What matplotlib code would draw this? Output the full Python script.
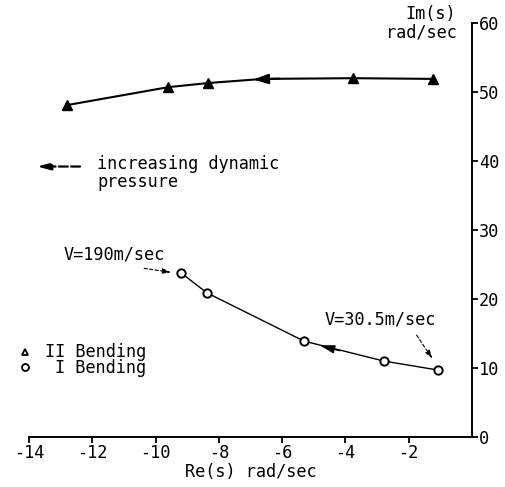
import matplotlib
matplotlib.use("Agg")
import matplotlib.pyplot as plt

# ---- data ----
re_II = [-12.8, -9.6, -8.34, -3.76, -1.23]
im_II = [48.1, 50.7, 51.3, 52.0, 51.9]
re_II_line = [-12.8, -9.6, -8.34, -6.6, -3.76, -1.23]
im_II_line = [48.1, 50.7, 51.3, 51.9, 52.0, 51.9]

re_I = [-9.2, -8.38, -5.31, -2.78, -1.07]
im_I = [23.8, 20.9, 13.9, 11.0, 9.7]

xticks = [-14, -12, -10, -8, -6, -4, -2]
xticklabels = ["-14", "-12", "-10", "-8", "-6", "-4", "-2"]
yticks = [0, 10, 20, 30, 40, 50, 60]
yticklabels = ["0", "10", "20", "30", "40", "50", "60"]

FONT = "DejaVu Sans Mono"
FS = 12.2

fig = plt.figure(figsize=(5.06, 4.87), dpi=100)
ax = fig.add_axes([29/506, 1-437/487, (472-29)/506, (437-23)/487])
ax.set_xlim(-14, 0)
ax.set_ylim(0, 60)

# curves
ax.plot(re_II_line, im_II_line, color="black", lw=1.5, zorder=2)
ax.plot(re_II, im_II, linestyle="none", marker="^", color="black", ms=7, zorder=3)
ax.plot(re_I, im_I, color="black", lw=1.0, zorder=2)
ax.plot(re_I, im_I, linestyle="none", marker="o", mfc="white", mec="black",
        mew=1.4, ms=6, zorder=3)

# direction arrows on curves
ax.annotate("", xy=(-7.0, 51.8), xytext=(-6.0, 51.95),
            arrowprops=dict(arrowstyle="-|>,head_length=0.9,head_width=0.3",
                            color="black", lw=1.5))
ax.annotate("", xy=(-4.9, 13.4), xytext=(-4.1, 12.4),
            arrowprops=dict(arrowstyle="-|>,head_length=0.9,head_width=0.25",
                            color="black", lw=1.0))

# legend for arrow
ax.annotate("", xy=(-13.85, 39.2), xytext=(-12.3, 39.2),
            arrowprops=dict(arrowstyle="-|>,head_length=0.8,head_width=0.2",
                            color="black", lw=1.6, linestyle=(0, (4, 1.5))),
            annotation_clip=False)
ax.text(-11.85, 40.9, "increasing dynamic\npressure", family=FONT, fontsize=FS,
        ha="left", va="top", linespacing=1.05)

# velocity labels
ax.text(-12.9, 26.4, "V=190m/sec", family=FONT, fontsize=FS, ha="left", va="center")
ax.annotate("", xy=(-9.42, 23.8), xytext=(-10.45, 24.5),
            arrowprops=dict(arrowstyle="-|>,head_length=0.5,head_width=0.15",
                            color="black", lw=0.8, linestyle=(0, (3, 2))))
ax.text(-4.65, 17.1, "V=30.5m/sec", family=FONT, fontsize=FS, ha="left", va="center")
ax.annotate("", xy=(-1.2, 11.0), xytext=(-1.8, 15.1),
            arrowprops=dict(arrowstyle="-|>,head_length=0.5,head_width=0.15",
                            color="black", lw=0.8, linestyle=(0, (3, 2))))

# symbol legend
ax.plot([-14.12], [12.3], marker="^", mfc="white", mec="black", mew=1.3, ms=5,
        clip_on=False, linestyle="none")
ax.plot([-14.12], [10.1], marker="o", mfc="white", mec="black", mew=1.3, ms=5,
        clip_on=False, linestyle="none")
ax.text(-10.3, 11.2, "II Bending\nI Bending", family=FONT, fontsize=FS,
        ha="right", va="center", multialignment="right", linespacing=0.88)

# axes styling
for s in ["top", "left"]:
    ax.spines[s].set_visible(False)
ax.spines["bottom"].set_linewidth(1.4)
ax.spines["right"].set_linewidth(1.4)
ax.yaxis.tick_right()
ax.set_xticks(xticks)
ax.set_xticklabels(xticklabels, family=FONT, fontsize=FS)
ax.set_yticks(yticks)
ax.set_yticklabels(yticklabels, family=FONT, fontsize=FS)
ax.tick_params(axis="x", direction="out", length=4, width=1.3, pad=1)
ax.tick_params(axis="y", direction="out", length=4, width=1.3, pad=1)

ax.text(0.5, -0.063, "Re(s) rad/sec", transform=ax.transAxes, family=FONT,
        fontsize=FS, ha="center", va="top")
ax.text(0.965, 1.022, "Im(s)", transform=ax.transAxes, family=FONT,
        fontsize=FS, ha="right", va="center")
ax.text(0.965, 0.977, "rad/sec", transform=ax.transAxes, family=FONT,
        fontsize=FS, ha="right", va="center")

fig.savefig("out.png", dpi=100)
